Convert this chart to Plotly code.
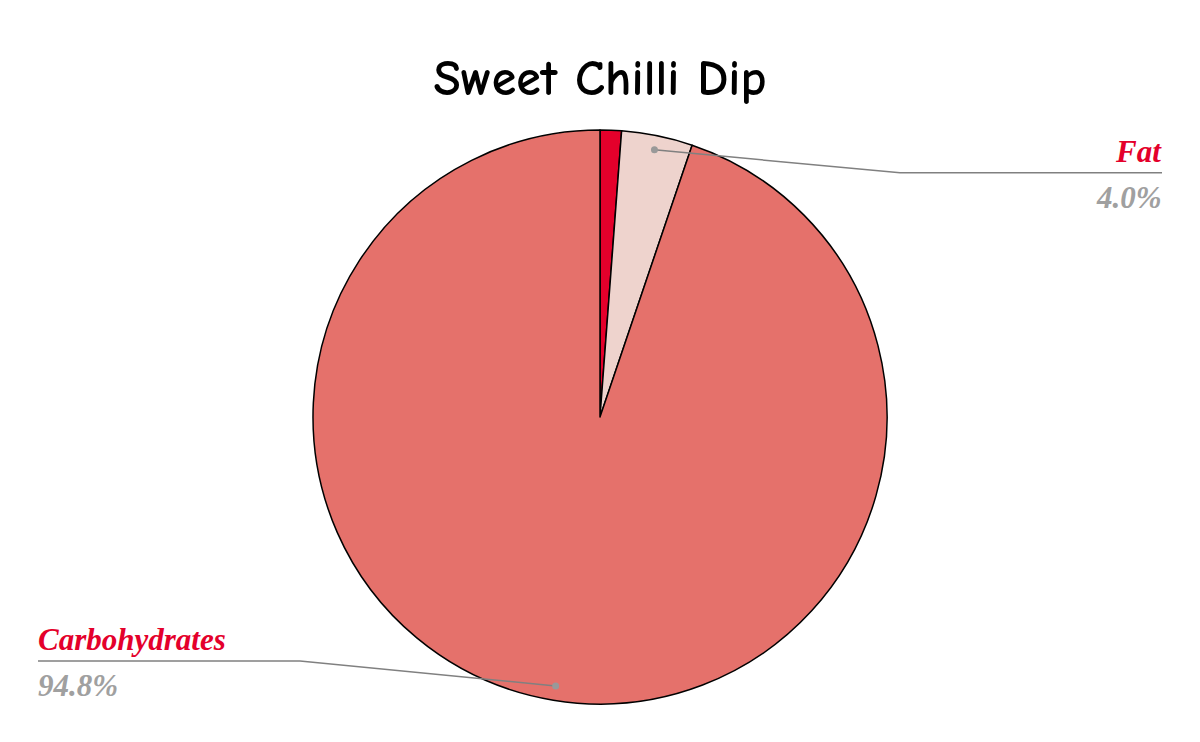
import math
import plotly.graph_objects as go

# ---- data ----
labels = ["Protein", "Fat", "Carbohydrates"]
values = [1.2, 4.0, 94.8]
colors = ["#E4002B", "#EED3CD", "#E5716B"]
shown = ["Fat", "Carbohydrates"]
title = "Sweet Chilli Dip"

W, H = 1200, 742
MT, MB, ML, MR = 130, 38, 0, 0
ph = H - MT - MB
pw = W - ML - MR
R = min(ph, pw) / 2
CX, CY = ML + pw / 2, MT + ph / 2


def px2paper(x, y):
    return (x - ML) / pw, 1 - (y - MT) / ph


fig = go.Figure(go.Pie(
    labels=labels, values=values, sort=False, direction="clockwise", rotation=0,
    marker=dict(colors=colors, line=dict(color="black", width=1.5)),
    textinfo="none", hoverinfo="label+percent", showlegend=False,
))

total = sum(values)
cum = 0.0
shapes, annots = [], []
for lab, v in zip(labels, values):
    mid = (cum + v / 2) / total
    cum += v
    if lab not in shown:
        continue
    ang = 2 * math.pi * mid
    dx, dy = CX + 0.95 * R * math.sin(ang), CY - 0.95 * R * math.cos(ang)
    pct = f"{100 * v / total:.1f}%"
    if math.sin(ang) >= 0:
        kx, ky, ex = 900, dy + 23, 1162
        anchor, tx = "right", ex
    else:
        kx, ky, ex = 300, dy - 25, 38
        anchor, tx = "left", ex
    pts = [px2paper(dx, dy), px2paper(kx, ky), px2paper(ex, ky)]
    path = "M " + " L ".join(f"{a},{b}" for a, b in pts)
    shapes.append(dict(type="path", xref="paper", yref="paper", path=path,
                       line=dict(color="#808080", width=1.5)))
    rp = 3.5
    shapes.append(dict(type="circle", xref="paper", yref="paper",
                       x0=(dx - rp - ML) / pw, x1=(dx + rp - ML) / pw,
                       y0=1 - (dy + rp - MT) / ph, y1=1 - (dy - rp - MT) / ph,
                       fillcolor="#999999", line=dict(width=0)))
    lx, ly = px2paper(tx, ky)
    annots.append(dict(x=lx, y=ly, xref="paper", yref="paper", text=f"<b><i>{lab}</i></b>",
                       showarrow=False, xanchor=anchor, yanchor="bottom", yshift=2,
                       xshift=(2 if anchor == "right" else -2),
                       font=dict(family="Liberation Serif", size=31, color="#E4002B")))
    annots.append(dict(x=lx, y=ly, xref="paper", yref="paper", text=f"<b><i>{pct}</i></b>",
                       showarrow=False, xanchor=anchor, yanchor="top", yshift=-5,
                       xshift=(2 if anchor == "right" else -2),
                       font=dict(family="Liberation Serif", size=31, color="#A0A0A0")))

fig.update_layout(
    width=W, height=H,
    margin=dict(l=ML, r=MR, t=MT, b=MB),
    paper_bgcolor="white", plot_bgcolor="white",
    title=dict(text=f"<b>{title}</b>", x=0.5, xanchor="center", y=1 - 77 / H, yanchor="middle",
               font=dict(family="Comic Sans MS, Comic Neue, Noto Sans, sans-serif", size=50, color="black")),
    shapes=shapes, annotations=annots,
)

fig.write_html("out.html", config={"displayModeBar": False},
               post_script="document.body.style.margin='0';document.body.style.padding='0';")
